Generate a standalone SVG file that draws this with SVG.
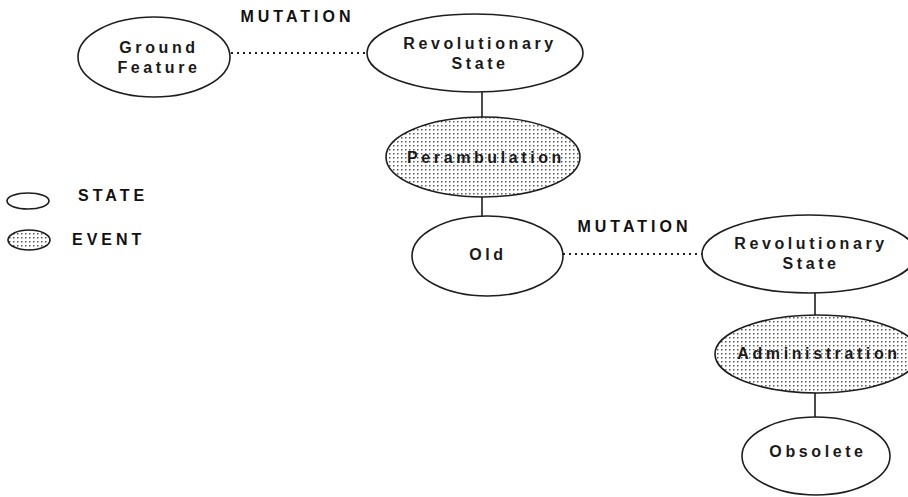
<svg xmlns="http://www.w3.org/2000/svg" width="908" height="497" viewBox="0 0 908 497">
  <defs>
    <!-- stipple fill used for event nodes -->
    <pattern id="stipple" width="4" height="4" patternUnits="userSpaceOnUse">
      <rect width="4" height="4" fill="#ffffff"/>
      <rect x="1" y="1" width="1.5" height="1.5" fill="#5a5a5a"/>
    </pattern>
    <style>
      .state { fill: #ffffff; stroke: #1e1e1e; stroke-width: 1.6; }
      .event { fill: url(#stipple); stroke: #1e1e1e; stroke-width: 1.6; }
      .label { font-family: "Liberation Sans", Arial, sans-serif; font-size: 16px; font-weight: bold; letter-spacing: 3.6px; fill: #1a1a1a; text-anchor: middle; }
      .tag { font-family: "Liberation Sans", Arial, sans-serif; font-size: 16px; font-weight: bold; letter-spacing: 4px; fill: #111111; }
      .link { stroke: #1e1e1e; stroke-width: 1.6; fill: none; }
      .mutation { stroke: #1e1e1e; stroke-width: 2; stroke-dasharray: 2 4; fill: none; }
    </style>
  </defs>
  <rect width="908" height="497" fill="#ffffff"/>

  <!-- connectors -->
  <g id="connectors">
    <line class="mutation" x1="231" y1="53" x2="367" y2="53"/>
    <line class="mutation" x1="563" y1="254" x2="702" y2="254"/>
    <line class="link" x1="482" y1="92" x2="482" y2="117"/>
    <line class="link" x1="482" y1="197" x2="482" y2="216"/>
    <line class="link" x1="815" y1="293" x2="815" y2="315"/>
    <line class="link" x1="815" y1="393" x2="815" y2="417"/>
  </g>

  <!-- connector labels -->
  <g id="mutation-labels">
    <text class="tag" x="297.5" y="22" text-anchor="middle">MUTATION</text>
    <text class="tag" x="634.5" y="232" text-anchor="middle">MUTATION</text>
  </g>

  <g id="ground-feature">
    <ellipse class="state" cx="154" cy="57" rx="76" ry="40"/>
    <text class="label" x="159" y="53">Ground</text>
    <text class="label" x="159" y="73">Feature</text>
  </g>

  <g id="revolutionary-state-1">
    <ellipse class="state" cx="475" cy="53" rx="108" ry="39"/>
    <text class="label" x="480" y="49">Revolutionary</text>
    <text class="label" x="480" y="69">State</text>
  </g>

  <g id="perambulation">
    <ellipse class="event" cx="483" cy="157" rx="97" ry="40"/>
    <text class="label" x="486" y="163">Perambulation</text>
  </g>

  <g id="old">
    <ellipse class="state" cx="487.5" cy="256" rx="75.5" ry="40"/>
    <text class="label" x="488" y="260">Old</text>
  </g>

  <g id="revolutionary-state-2">
    <ellipse class="state" cx="809" cy="254" rx="107" ry="39"/>
    <text class="label" x="811" y="249">Revolutionary</text>
    <text class="label" x="811" y="269">State</text>
  </g>

  <g id="administration">
    <ellipse class="event" cx="817" cy="354" rx="102" ry="39"/>
    <text class="label" x="819" y="359">Administration</text>
  </g>

  <g id="obsolete">
    <ellipse class="state" cx="816" cy="456" rx="74" ry="39"/>
    <text class="label" x="818" y="457">Obsolete</text>
  </g>

  <!-- legend -->
  <g id="legend">
    <ellipse class="state" cx="28" cy="201" rx="21" ry="8"/>
    <text class="tag" x="78" y="201">STATE</text>
    <ellipse class="event" cx="29" cy="240" rx="21" ry="10"/>
    <text class="tag" x="72" y="245">EVENT</text>
  </g>
</svg>
